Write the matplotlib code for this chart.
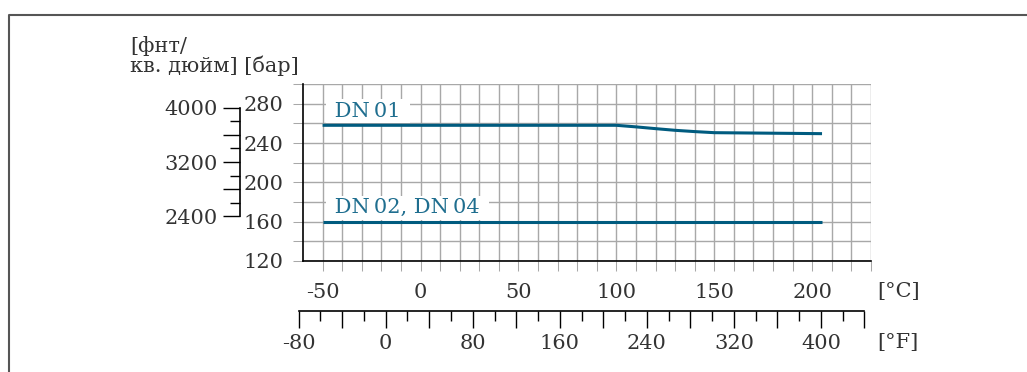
import numpy as np
import matplotlib
matplotlib.use('Agg')
import matplotlib.pyplot as plt
from matplotlib.ticker import FixedLocator, MultipleLocator, FuncFormatter
from matplotlib.lines import Line2D

# --- data ---
t_dn01 = [-50, 100, 110, 120, 130, 140, 150, 205]        # [°C]
p_dn01 = [258, 258, 256.4, 254.6, 252.9, 251.6, 250.5, 249.5]  # [bar]
t_dn02 = [-50, 205]
p_dn02 = [160, 160]
series_labels = ['DN\u200901', 'DN\u200902, DN\u200904']

c_ticks = [-50, 0, 50, 100, 150, 200]
bar_ticks = [120, 160, 200, 240, 280]
f_label_step = 80
psi_label_step = 800

BAR_TO_PSI = 14.5038
XLIM = (-60, 230)
YLIM = (120, 300)

plt.rcParams['font.family'] = ['DejaVu Serif']
plt.rcParams['axes.unicode_minus'] = False
TXT = '#333333'
GRID = '#a8a8a8'
LINE = '#005b7f'
LBL = '#1f6e8f'
FS = 15

W_PX, H_PX = 1027, 372
fig = plt.figure(figsize=(W_PX / 100, H_PX / 100), dpi=100)


def fx(px):
    return px / W_PX


def fy(py):
    return 1 - py / H_PX


# main axes
L, R, T, B = 303, 871, 84, 261
ax = fig.add_axes([fx(L), fy(B), fx(R - L), fy(T) - fy(B)])
ax.set_xlim(*XLIM)
ax.set_ylim(*YLIM)
ax.xaxis.set_major_locator(FixedLocator(c_ticks))
ax.xaxis.set_minor_locator(FixedLocator(np.arange(-50, 231, 10)))
ax.yaxis.set_major_locator(FixedLocator(bar_ticks))
ax.yaxis.set_minor_locator(FixedLocator(np.arange(120, 301, 20)))
ax.grid(which='both', color=GRID, lw=1.0, zorder=0)
ax.set_axisbelow(True)
for s in ['top', 'right']:
    ax.spines[s].set_visible(False)
for s in ['left', 'bottom']:
    ax.spines[s].set_color('black')
    ax.spines[s].set_linewidth(1.2)
    ax.spines[s].set_zorder(3)
ax.tick_params(which='both', direction='out', length=7.2, width=0.75, color=GRID,
               labelsize=FS, labelcolor=TXT)
ax.tick_params(axis='x', which='both', pad=9)
ax.tick_params(axis='y', which='both', pad=7)

for t, p, lbl in [(t_dn01, p_dn01, series_labels[0]), (t_dn02, p_dn02, series_labels[1])]:
    ax.plot(t, p, color=LINE, lw=2.2, zorder=5, solid_capstyle='butt')
    ax.annotate(' ' + lbl + ' ', xy=(t[0], p[0]), xytext=(4, 6), textcoords='offset points',
                ha='left', va='baseline', fontsize=FS, color=LBL, zorder=4,
                bbox=dict(boxstyle='square,pad=0.12', fc='white', ec='none'))

# Fahrenheit axis
c_per_px = (XLIM[1] - XLIM[0]) / (R - L)
f_lo, f_hi = -80, 440
px_lo = L + ((f_lo - 32) * 5 / 9 - XLIM[0]) / c_per_px
px_hi = L + ((f_hi - 32) * 5 / 9 - XLIM[0]) / c_per_px
yF = 310.7
axf = fig.add_axes([fx(px_lo), fy(yF), fx(px_hi - px_lo), 1e-4])
axf.set_xlim(f_lo, f_hi)
axf.patch.set_visible(False)
for s in ['top', 'left', 'right']:
    axf.spines[s].set_visible(False)
axf.spines['bottom'].set_linewidth(1.2)
axf.yaxis.set_visible(False)
axf.xaxis.set_major_locator(MultipleLocator(40))
axf.xaxis.set_minor_locator(FixedLocator(np.arange(-60, 441, 40)))
axf.xaxis.set_major_formatter(FuncFormatter(
    lambda v, pos: f'{v:.0f}' if round(v) % f_label_step == 0 else ''))
axf.tick_params(which='major', direction='out', length=12, width=1.0, color='black',
                labelsize=FS, labelcolor=TXT, pad=5)
axf.tick_params(which='minor', direction='out', length=7.2, width=1.0, color='black')

# psi axis
xP = 239.5
axp = fig.add_axes([fx(xP), fy(B), 1e-4, fy(T) - fy(B)])
axp.set_ylim(YLIM[0] * BAR_TO_PSI, YLIM[1] * BAR_TO_PSI)
axp.patch.set_visible(False)
for s in ['top', 'bottom', 'right']:
    axp.spines[s].set_visible(False)
axp.spines['left'].set_linewidth(1.2)
axp.spines['left'].set_bounds(2400, 4000)
axp.xaxis.set_visible(False)
axp.yaxis.set_major_locator(FixedLocator(np.arange(2400, 4001, 400)))
axp.yaxis.set_minor_locator(FixedLocator(np.arange(2600, 4000, 400)))
axp.yaxis.set_major_formatter(FuncFormatter(
    lambda v, pos: f'{v:.0f}' if round(v) % psi_label_step == 0 else ''))
axp.tick_params(which='major', direction='out', length=12, width=1.0, color='black',
                labelsize=FS, labelcolor=TXT, pad=3.5)
axp.tick_params(which='minor', direction='out', length=7.2, width=1.0, color='black')

# unit labels
fig.text(fx(130), fy(36), '[фнт/\nкв. дюйм] [бар]', ha='left', va='top',
         fontsize=FS, color=TXT, linespacing=1.0)
fig.text(fx(877), fy(291.5), '[°C]', ha='left', va='center', fontsize=FS, color=TXT)
fig.text(fx(877), fy(342.5), '[°F]', ha='left', va='center', fontsize=FS, color=TXT)

# frame
fig.add_artist(Line2D([fx(8.5), fx(8.5), 1.0], [0.0, fy(15), fy(15)],
                      transform=fig.transFigure, color='#555555', lw=1.5))

fig.savefig('out.png', dpi=100)
